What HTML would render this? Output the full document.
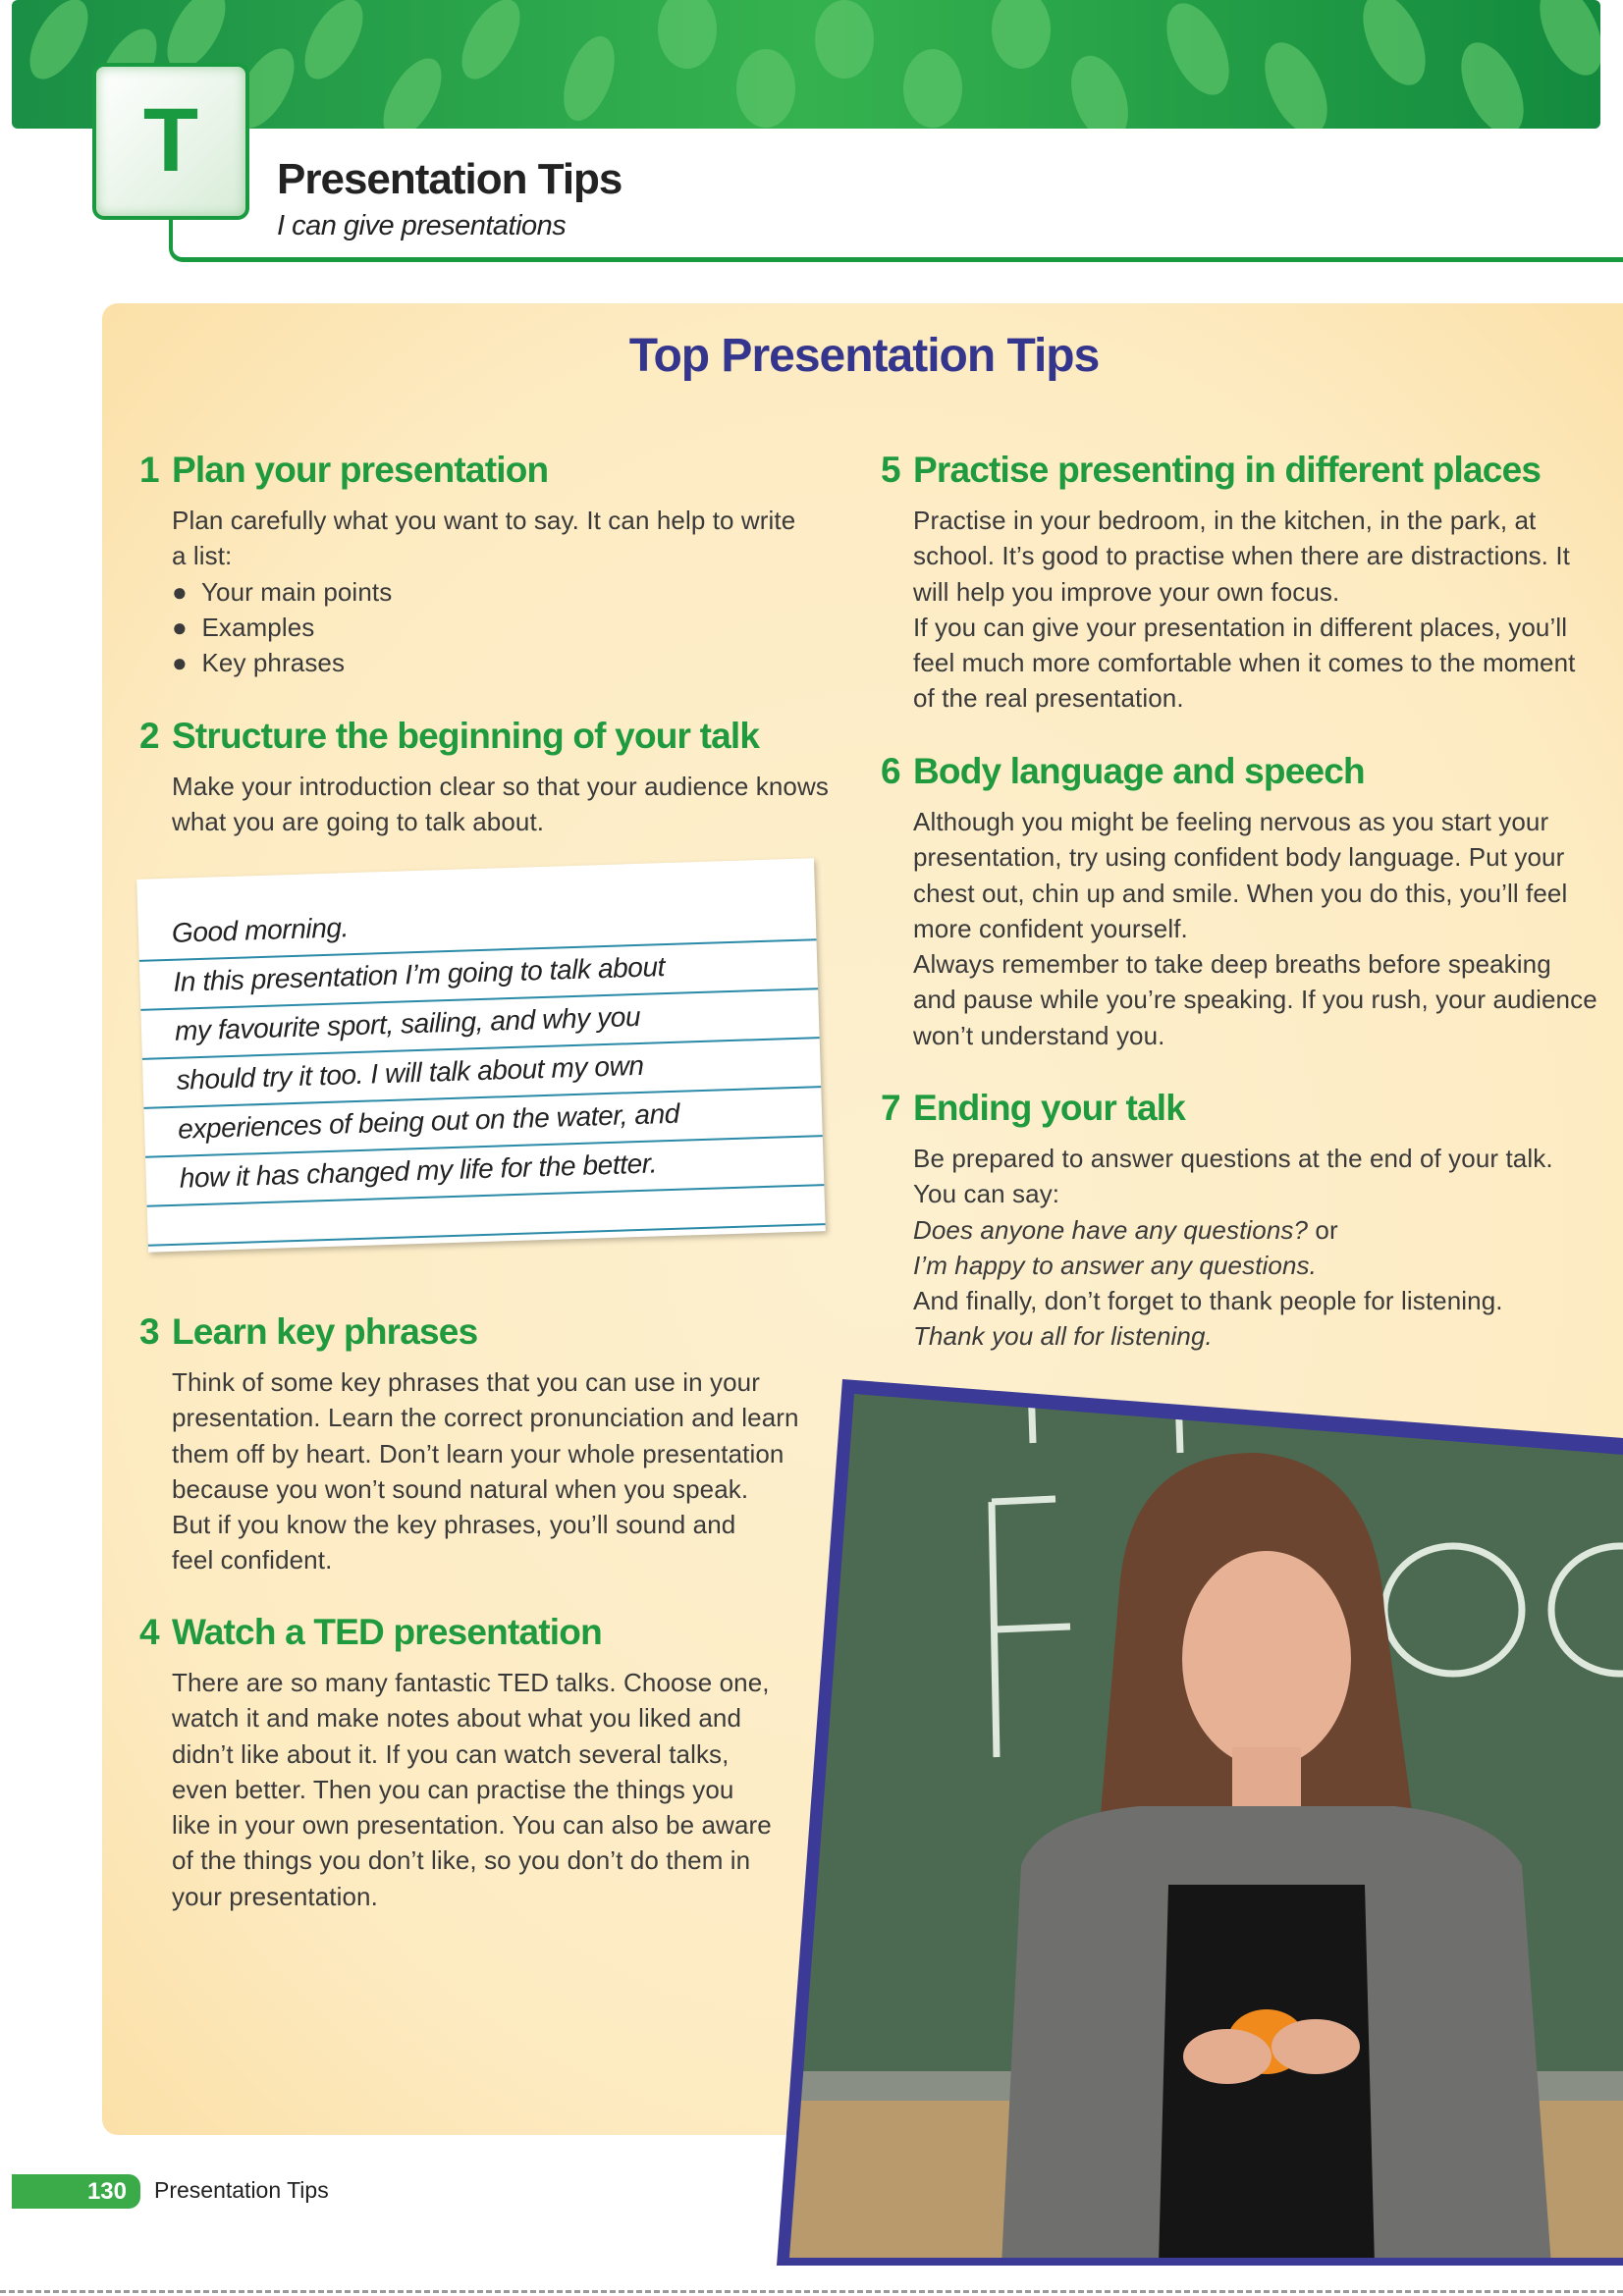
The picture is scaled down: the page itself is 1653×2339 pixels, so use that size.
<!DOCTYPE html>
<html><head><meta charset="utf-8">
<style>
*{margin:0;padding:0;box-sizing:border-box}
body{width:1653px;height:2339px;position:relative;background:#fff;font-family:"Liberation Sans",sans-serif;overflow:hidden}
.abs{position:absolute}
.h{position:absolute;color:#1f9a3e;font-weight:bold;font-size:37px;letter-spacing:-0.8px;white-space:nowrap}
.h .n{position:absolute;left:-33px}
.p{position:absolute;color:#3a3a3a;font-size:26px;line-height:36.3px;white-space:nowrap;letter-spacing:0.1px}
.p i{font-style:italic}
.card-line{position:absolute;left:0;width:100%;height:2px;background:#2a8aa8}
.card-t{position:absolute;left:34px;font-style:italic;font-size:28px;color:#222;white-space:nowrap;letter-spacing:-0.4px}
</style></head>
<body>
<svg class="abs" style="left:0;top:0" width="1653" height="140">
<defs><linearGradient id="bg" x1="0" x2="1"><stop offset="0" stop-color="#1a8f45"/><stop offset="0.5" stop-color="#35b24f"/><stop offset="1" stop-color="#138a3e"/></linearGradient>
<clipPath id="bc"><rect x="12" y="0" width="1618" height="131" rx="6"/></clipPath></defs>
<rect x="12" y="0" width="1618" height="131" fill="url(#bg)" rx="6"/>
<g clip-path="url(#bc)" fill="#5cc46a" opacity="0.7">
<ellipse cx="60" cy="40" rx="22" ry="45" transform="rotate(30 60 40)"/><ellipse cx="130" cy="70" rx="22" ry="45" transform="rotate(30 130 70)"/>
<ellipse cx="200" cy="30" rx="22" ry="45" transform="rotate(30 200 30)"/><ellipse cx="270" cy="90" rx="22" ry="45" transform="rotate(30 270 90)"/>
<ellipse cx="340" cy="40" rx="22" ry="45" transform="rotate(30 340 40)"/><ellipse cx="420" cy="100" rx="22" ry="45" transform="rotate(30 420 100)"/>
<ellipse cx="500" cy="40" rx="22" ry="45" transform="rotate(30 500 40)"/><ellipse cx="600" cy="80" rx="22" ry="45" transform="rotate(20 600 80)"/>
<ellipse cx="700" cy="30" rx="30" ry="40"/><ellipse cx="780" cy="90" rx="30" ry="40"/><ellipse cx="860" cy="40" rx="30" ry="40"/>
<ellipse cx="950" cy="90" rx="30" ry="40"/><ellipse cx="1040" cy="30" rx="30" ry="40"/><ellipse cx="1120" cy="100" rx="26" ry="45" transform="rotate(-20 1120 100)"/>
<ellipse cx="1220" cy="50" rx="26" ry="50" transform="rotate(-25 1220 50)"/><ellipse cx="1320" cy="90" rx="26" ry="50" transform="rotate(-25 1320 90)"/>
<ellipse cx="1420" cy="40" rx="26" ry="50" transform="rotate(-25 1420 40)"/><ellipse cx="1520" cy="90" rx="26" ry="50" transform="rotate(-25 1520 90)"/>
<ellipse cx="1600" cy="30" rx="26" ry="50" transform="rotate(-25 1600 30)"/>
</g></svg>
<div class="abs" style="left:172px;top:200px;width:1500px;height:67px;border-left:4px solid #1a9a40;border-bottom:5px solid #1a9a40;border-bottom-left-radius:14px"></div>
<div class="abs" style="left:94px;top:64px;width:160px;height:160px;border:4px solid #1a9a40;border-radius:12px;background:linear-gradient(135deg,#fff,#d8ecd8);box-shadow:inset 0 0 12px #9ccf9f;color:#1a9a40;font-weight:bold;font-size:92px;text-align:center;line-height:150px">T</div>
<div class="abs" style="left:282px;top:158px;font-size:44px;font-weight:bold;color:#222;letter-spacing:-1px">Presentation Tips</div>
<div class="abs" style="left:282px;top:214px;font-size:29px;font-style:italic;color:#222;letter-spacing:-0.5px">I can give presentations</div>

<div class="abs" style="left:104px;top:309px;width:1580px;height:1866px;border-radius:16px;background:radial-gradient(ellipse at 50% 50%,#fdf0cf 0%,#fdebc2 70%,#fbe0a8 100%)"></div>
<div class="abs" style="left:0;width:1760px;text-align:center;top:335px;font-size:48px;font-weight:bold;color:#34358c;letter-spacing:-1px">Top Presentation Tips</div>

<div class="h" style="left:175px;top:458px"><span class="n">1</span>Plan your presentation</div>
<div class="p" style="left:175px;top:512px">Plan carefully what you want to say. It can help to write<br>a list:<br>&#9679;&nbsp; Your main points<br>&#9679;&nbsp; Examples<br>&#9679;&nbsp; Key phrases</div>

<div class="h" style="left:175px;top:729px"><span class="n">2</span>Structure the beginning of your talk</div>
<div class="p" style="left:175px;top:783px">Make your introduction clear so that your audience knows<br>what you are going to talk about.</div>

<div class="abs" style="left:145px;top:885px;width:690px;height:380px;background:#fff;transform:rotate(-1.8deg);box-shadow:2px 3px 6px rgba(0,0,0,0.25)">
<div class="card-t" style="top:40px">Good morning.</div><div class="card-line" style="top:82px"></div>
<div class="card-t" style="top:90px">In this presentation I’m going to talk about</div><div class="card-line" style="top:132px"></div>
<div class="card-t" style="top:140px">my favourite sport, sailing, and why you</div><div class="card-line" style="top:182px"></div>
<div class="card-t" style="top:190px">should try it too. I will talk about my own</div><div class="card-line" style="top:232px"></div>
<div class="card-t" style="top:240px">experiences of being out on the water, and</div><div class="card-line" style="top:282px"></div>
<div class="card-t" style="top:290px">how it has changed my life for the better.</div><div class="card-line" style="top:332px"></div>
<div class="card-line" style="top:372px"></div>
</div>

<div class="h" style="left:175px;top:1336px"><span class="n">3</span>Learn key phrases</div>
<div class="p" style="left:175px;top:1390px">Think of some key phrases that you can use in your<br>presentation. Learn the correct pronunciation and learn<br>them off by heart. Don’t learn your whole presentation<br>because you won’t sound natural when you speak.<br>But if you know the key phrases, you’ll sound and<br>feel confident.</div>

<div class="h" style="left:175px;top:1642px"><span class="n">4</span>Watch a TED presentation</div>
<div class="p" style="left:175px;top:1696px">There are so many fantastic TED talks. Choose one,<br>watch it and make notes about what you liked and<br>didn’t like about it. If you can watch several talks,<br>even better. Then you can practise the things you<br>like in your own presentation. You can also be aware<br>of the things you don’t like, so you don’t do them in<br>your presentation.</div>

<div class="h" style="left:930px;top:458px"><span class="n">5</span>Practise presenting in different places</div>
<div class="p" style="left:930px;top:512px">Practise in your bedroom, in the kitchen, in the park, at<br>school. It’s good to practise when there are distractions. It<br>will help you improve your own focus.<br>If you can give your presentation in different places, you’ll<br>feel much more comfortable when it comes to the moment<br>of the real presentation.</div>

<div class="h" style="left:930px;top:765px"><span class="n">6</span>Body language and speech</div>
<div class="p" style="left:930px;top:819px">Although you might be feeling nervous as you start your<br>presentation, try using confident body language. Put your<br>chest out, chin up and smile. When you do this, you’ll feel<br>more confident yourself.<br>Always remember to take deep breaths before speaking<br>and pause while you’re speaking. If you rush, your audience<br>won’t understand you.</div>

<div class="h" style="left:930px;top:1108px"><span class="n">7</span>Ending your talk</div>
<div class="p" style="left:930px;top:1162px">Be prepared to answer questions at the end of your talk.<br>You can say:<br><i>Does anyone have any questions?</i> or<br><i>I’m happy to answer any questions.</i><br>And finally, don’t forget to thank people for listening.<br><i>Thank you all for listening.</i></div>

<svg class="abs" style="left:0;top:0" width="1653" height="2339">
<defs><clipPath id="pc"><polygon points="870,1420 1653,1482 1653,2300 804,2300"/></clipPath></defs>
<polygon points="858,1405 1653,1465 1653,2308 791,2308" fill="#3b3a96"/>
<g clip-path="url(#pc)">
<rect x="780" y="1400" width="900" height="920" fill="#4c6a52"/>
<rect x="780" y="2110" width="900" height="30" fill="#8a8f86"/>
<rect x="780" y="2140" width="900" height="170" fill="#b89a6c"/>
<g stroke="#dfe8dc" stroke-width="7" fill="none">
<path d="M1010 1530 L1015 1790 M1010 1530 L1075 1527 M1012 1660 L1090 1657"/>
<ellipse cx="1480" cy="1640" rx="70" ry="65"/><ellipse cx="1650" cy="1640" rx="70" ry="65"/>
<path d="M1050 1410 L1052 1470 M1200 1420 L1202 1480"/>
</g>
<path d="M1140 1620 Q1150 1480 1280 1480 Q1400 1490 1410 1640 L1440 1860 L1120 1860 Z" fill="#6b4530"/>
<ellipse cx="1290" cy="1690" rx="86" ry="110" fill="#e6b195"/>
<rect x="1255" y="1780" width="70" height="70" fill="#e2ab8f"/>
<path d="M1020 2308 L1040 1900 Q1060 1850 1160 1840 L1420 1840 Q1520 1850 1550 1900 L1580 2308 Z" fill="#6f6f6d"/>
<path d="M1190 1920 L1390 1920 L1400 2308 L1180 2308 Z" fill="#151515"/>
<ellipse cx="1290" cy="2080" rx="40" ry="33" fill="#f08a1c"/>
<ellipse cx="1250" cy="2095" rx="45" ry="28" fill="#e5ad90"/><ellipse cx="1340" cy="2085" rx="45" ry="28" fill="#e5ad90"/>
</g>
</svg>

<div class="abs" style="left:12px;top:2215px;width:131px;height:35px;background:#3bab4a;border-radius:0 12px 12px 0;color:#fff;font-weight:bold;font-size:24px;text-align:right;padding-right:14px;line-height:35px">130</div>
<div class="abs" style="left:157px;top:2218px;font-size:23px;color:#222">Presentation Tips</div>
<div class="abs" style="left:0;top:2333px;width:1653px;height:3px;border-top:3px dashed #999"></div>
</body></html>
